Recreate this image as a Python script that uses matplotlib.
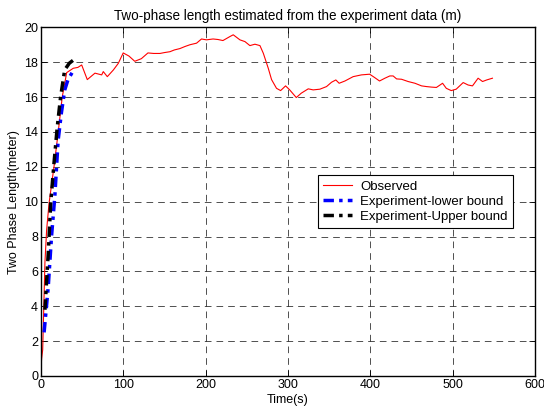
import matplotlib
matplotlib.use("Agg")
import matplotlib.pyplot as plt
import numpy as np

plt.rcParams['font.family'] = ['Liberation Sans', 'DejaVu Sans']

obs_t = [0, 1, 2.3, 5, 7.1, 10, 16, 20.9, 26, 31.4, 39.4, 45, 49.6, 56.4, 65.7, 73.9, 75.8,
         80.7, 88, 94, 100, 107, 114, 122, 130, 137, 144.6, 150, 156.7, 162, 168.8, 175, 181,
         189, 195, 201, 209, 215, 221, 229.5, 233.5, 241.6, 247.7, 253.7, 259.8, 265.9, 270,
         276, 280, 286, 291, 297, 302, 310, 316, 324.5, 330.5, 338.6, 346.7, 352.8, 358, 362,
         369, 379, 389, 399, 405, 411, 417.5, 423.5, 427.5, 431.7, 437.7, 445.7, 454, 462,
         468, 474, 480, 487.5, 492, 498, 504, 512.5, 518.5, 523.8, 530.6, 536, 541, 548]
obs_y = [0.3, 1.0, 1.5, 6.5, 8.4, 9.9, 12.0, 13.9, 16.0, 17.4, 17.65, 17.7, 17.84, 17.0, 17.37,
         17.27, 17.46, 17.17, 17.55, 17.93, 18.53, 18.35, 18.05, 18.2, 18.53, 18.5, 18.5, 18.55,
         18.6, 18.7, 18.78, 18.9, 19.0, 19.09, 19.33, 19.28, 19.33, 19.3, 19.24, 19.47, 19.57,
         19.28, 19.18, 18.95, 19.03, 18.95, 18.51, 17.65, 17.0, 16.5, 16.37, 16.64, 16.41,
         15.97, 16.22, 16.47, 16.41, 16.45, 16.6, 16.85, 16.98, 16.79, 16.92, 17.17, 17.27,
         17.31, 17.12, 16.92, 17.08, 17.21, 17.21, 17.04, 17.02, 16.89, 16.79, 16.64, 16.6,
         16.57, 16.55, 16.79, 16.5, 16.37, 16.45, 16.83, 16.69, 16.64, 17.08, 16.89, 16.98, 17.08]

low_t = [4, 9, 13, 17, 21, 25, 29, 33, 38]
low_y = [2.5, 5.1, 8.0, 10.3, 13.5, 15.1, 16.4, 17.0, 17.4]

up_t = [5, 9, 12, 16, 20, 24, 29, 34.6, 39]
up_y = [3.8, 7.0, 9.9, 12.2, 14.3, 16.0, 17.56, 17.94, 18.1]

xticks = [0, 100, 200, 300, 400, 500, 600]
yticks = [0, 2, 4, 6, 8, 10, 12, 14, 16, 18, 20]

fig = plt.figure(figsize=(5.44, 4.13), dpi=100)
ax = fig.add_axes([0.075, 0.0896, 0.909, 0.8443])

ax.plot(obs_t, obs_y, color='red', lw=0.8, label='Observed')
ax.plot(low_t, low_y, color='blue', lw=2.5, ls=(0, (3, 1.5, 1, 1.5)), label='Experiment-lower bound')
ax.plot(up_t, up_y, color='black', lw=2.5, ls=(0, (3, 1.5, 1, 1.5)), label='Experiment-Upper bound')

ax.set_xlim(0, 600)
ax.set_ylim(0, 20)
ax.set_xticks(xticks)
ax.set_yticks(yticks)
ax.tick_params(direction='in', top=True, right=True, labelsize=9, length=4, width=0.6, pad=2)
ax.grid(True, color='black', ls=(0, (8, 6)), lw=0.6, alpha=0.8)
for s in ax.spines.values():
    s.set_linewidth(1.0)

ax.set_xlabel('Time(s)', fontsize=9, labelpad=2)
ax.set_ylabel('Two Phase Length(meter)', fontsize=9, labelpad=3)
ax.set_title('Two-phase length estimated from the experiment data (m)', fontsize=9.75, pad=5)

leg = ax.legend(loc='upper right', bbox_to_anchor=(0.955, 0.576), fontsize=9.5, fancybox=False,
                edgecolor='black', framealpha=1, borderpad=0.4, labelspacing=0.22,
                handlelength=2.2, handletextpad=0.6, borderaxespad=0)
leg.get_frame().set_linewidth(0.8)

fig.savefig('out.png', dpi=100)
